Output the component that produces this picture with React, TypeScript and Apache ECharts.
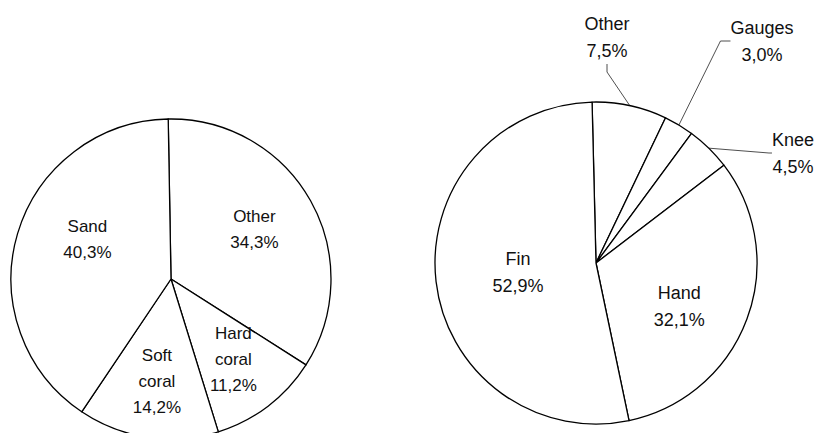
import React, { useEffect, useRef } from "react";
import * as echarts from "echarts";

const leftCategories = ["Other", "Hard coral", "Soft coral", "Sand"];
const leftValues = [34.3, 11.2, 14.2, 40.3];
const rightCategories = ["Other", "Gauges", "Knee", "Hand", "Fin"];
const rightValues = [7.5, 3.0, 4.5, 32.1, 52.9];
const rightOutside = ["Other", "Gauges", "Knee"];

// label layout adjustments (not data)
const leftLabelShift: Record<string, [number, number]> = {
  Other: [11, -9],
  "Hard coral": [12, 15],
  "Soft coral": [-2, 20],
  Sand: [-4, -16],
};
const rightLabelShift: Record<string, [number, number]> = {
  Hand: [5, 14],
  Fin: [5, 0],
};
const rightLabelPos: Record<string, [number, number]> = {
  Other: [607, 37],
  Gauges: [762, 41],
  Knee: [793, 153],
};
const rightLen2: Record<string, number> = { Other: 8, Gauges: 10, Knee: 3 };

const fmt = (p: any) =>
  `${String(p.name).replace(" ", "\n")}\n${Number(p.value).toFixed(1).replace(".", ",")}%`;

const FONT = "'Liberation Sans', Arial, sans-serif";

export default function App() {
  const ref = useRef<HTMLDivElement>(null);
  useEffect(() => {
    if (!ref.current) return;
    const chart = echarts.init(ref.current, null, { renderer: "svg" });
    const labelBase = {
      color: "#111",
      fontFamily: FONT,
      fontSize: 17,
      lineHeight: 26,
      formatter: fmt,
    };
    chart.setOption({
      animation: false,
      backgroundColor: "#fff",
      series: [
        {
          type: "pie",
          center: [171, 279],
          radius: 160,
          startAngle: 91,
          clockwise: true,
          silent: true,
          itemStyle: { color: "#fff", borderColor: "#000", borderWidth: 1.3 },
          label: { ...labelBase, position: "inside" },
          labelLine: { show: false },
          labelLayout: (p: any) => {
            const s = leftLabelShift[leftCategories[p.dataIndex]];
            return { dx: s[0], dy: s[1] };
          },
          data: leftCategories.map((n, i) => ({ name: n, value: leftValues[i] })),
        },
        {
          type: "pie",
          center: [596, 263],
          radius: 161,
          startAngle: 91.4,
          clockwise: true,
          silent: true,
          itemStyle: { color: "#fff", borderColor: "#000", borderWidth: 1.3 },
          label: { ...labelBase, fontSize: 18, lineHeight: 27 },
          labelLayout: (p: any) => {
            const n = rightCategories[p.dataIndex];
            if (rightLabelPos[n]) {
              const q = rightLabelPos[n];
              return { x: q[0], y: q[1], align: "center", verticalAlign: "middle" };
            }
            const s = rightLabelShift[n];
            return { dx: s[0], dy: s[1] };
          },
          data: rightCategories.map((n, i) => {
            const out = rightOutside.includes(n);
            return {
              name: n,
              value: rightValues[i],
              label: { position: out ? "outside" : "inside" },
              labelLine: out
                ? {
                    show: true,
                    length: 10,
                    length2: rightLen2[n],
                    minTurnAngle: 60,
                    lineStyle: { color: "#222", width: 0.8 },
                  }
                : { show: false },
            };
          }),
        },
      ],
    });
    return () => chart.dispose();
  }, []);
  return (
    <div
      ref={ref}
      style={{ position: "fixed", left: 0, top: 0, width: 819, height: 433, background: "#fff" }}
    />
  );
}
